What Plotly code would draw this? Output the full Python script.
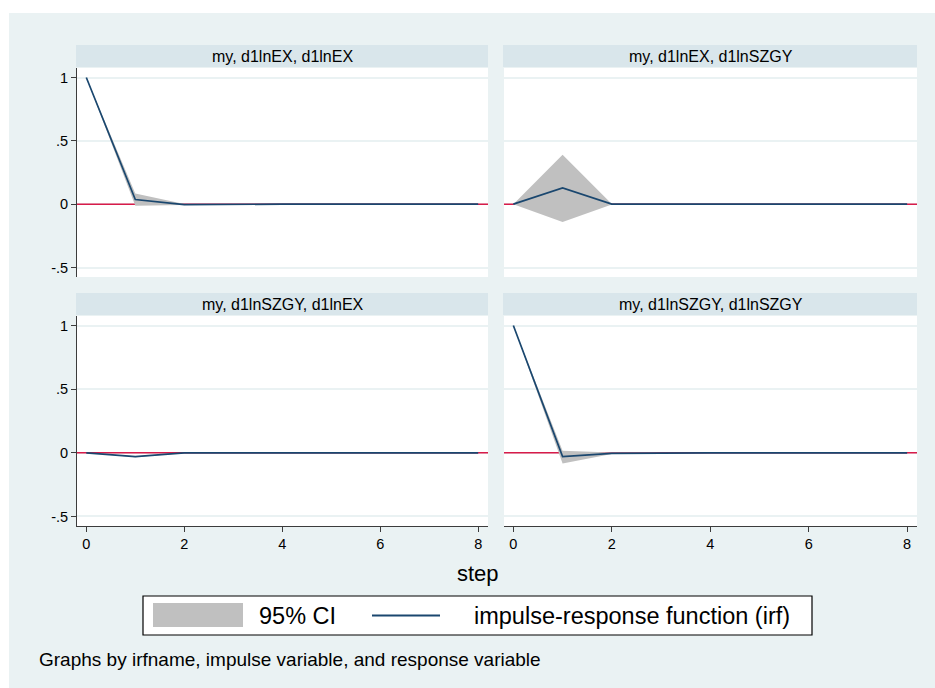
import plotly.graph_objects as go

W, H = 935, 688

steps = [0, 1, 2, 3, 4, 5, 6, 7, 8]
panel_titles = ["my, d1lnEX, d1lnEX", "my, d1lnEX, d1lnSZGY",
                "my, d1lnSZGY, d1lnEX", "my, d1lnSZGY, d1lnSZGY"]

irf_ex_ex = [1.0, 0.037, -0.003, 0.0, 0.0, 0.0, 0.0, 0.0, 0.0]
lo_ex_ex = [1.0, -0.012, -0.007, 0.0, 0.0, 0.0, 0.0, 0.0, 0.0]
up_ex_ex = [1.0, 0.085, 0.001, 0.0, 0.0, 0.0, 0.0, 0.0, 0.0]

irf_ex_sz = [0.0, 0.128, 0.0, 0.0, 0.0, 0.0, 0.0, 0.0, 0.0]
lo_ex_sz = [0.0, -0.14, -0.002, 0.0, 0.0, 0.0, 0.0, 0.0, 0.0]
up_ex_sz = [0.0, 0.39, 0.002, 0.0, 0.0, 0.0, 0.0, 0.0, 0.0]

irf_sz_ex = [0.0, -0.03, 0.0, 0.0, 0.0, 0.0, 0.0, 0.0, 0.0]
lo_sz_ex = [0.0, -0.034, -0.001, 0.0, 0.0, 0.0, 0.0, 0.0, 0.0]
up_sz_ex = [0.0, -0.026, 0.001, 0.0, 0.0, 0.0, 0.0, 0.0, 0.0]

irf_sz_sz = [1.0, -0.03, -0.004, 0.0, 0.0, 0.0, 0.0, 0.0, 0.0]
lo_sz_sz = [1.0, -0.084, -0.01, 0.0, 0.0, 0.0, 0.0, 0.0, 0.0]
up_sz_sz = [1.0, 0.016, 0.002, 0.0, 0.0, 0.0, 0.0, 0.0, 0.0]

ytick_vals = [-0.5, 0, 0.5, 1]
ytick_text = ["-.5", "0", ".5", "1"]
xtick_vals = [0, 2, 4, 6, 8]

panels = [
    (irf_ex_ex, lo_ex_ex, up_ex_ex),
    (irf_ex_sz, lo_ex_sz, up_ex_sz),
    (irf_sz_ex, lo_sz_ex, up_sz_ex),
    (irf_sz_sz, lo_sz_sz, up_sz_sz),
]

NAVY = "#1a476f"
CI_GRAY = "#c0c0c0"
BG = "#eaf2f3"
STRIP = "#d9e6eb"
RED = "#d81b4a"
AXC = "#3c3c3c"
FONT = "Liberation Sans, Arial, sans-serif"


def fx(px):
    return px / W


def fy(py):
    return 1 - py / H


# pixel boxes (x0, x1, ytop, ybottom) of each plot area
boxes = [
    (77, 488, 68, 277),
    (504, 917, 68, 277),
    (77, 488, 316, 526),
    (504, 917, 316, 526),
]

fig = go.Figure()
layout = dict(
    width=W, height=H,
    margin=dict(l=0, r=0, t=0, b=0),
    paper_bgcolor=BG,
    plot_bgcolor="white",
    showlegend=False,
    font=dict(family=FONT, color="black", size=14),
)

shapes = [
    dict(type="rect", xref="paper", yref="paper", x0=0, x1=fx(9), y0=0, y1=1,
         fillcolor="white", line_width=0, layer="below"),
    dict(type="rect", xref="paper", yref="paper", x0=0, x1=1, y0=fy(13), y1=1,
         fillcolor="white", line_width=0, layer="below"),
]
annotations = []

for i, (irf, lo, up) in enumerate(panels):
    n = i + 1
    xa = "x" if n == 1 else f"x{n}"
    ya = "y" if n == 1 else f"y{n}"
    x0, x1, yt, yb = boxes[i]
    left = i in (0, 2)
    bottom = i in (2, 3)

    # zero reference line (drawn first so the curves sit on top)
    fig.add_trace(go.Scatter(x=[-0.19, 8.2], y=[0, 0], mode="lines",
                             line=dict(width=1.5, color=RED), xaxis=xa, yaxis=ya,
                             hoverinfo="skip"))
    fig.add_trace(go.Scatter(x=steps, y=lo, mode="lines", line=dict(width=0, color=CI_GRAY),
                             xaxis=xa, yaxis=ya, hoverinfo="skip"))
    fig.add_trace(go.Scatter(x=steps, y=up, mode="lines", line=dict(width=0, color=CI_GRAY),
                             fill="tonexty", fillcolor=CI_GRAY, xaxis=xa, yaxis=ya,
                             hoverinfo="skip"))
    fig.add_trace(go.Scatter(x=steps, y=irf, mode="lines", line=dict(width=1.7, color=NAVY),
                             xaxis=xa, yaxis=ya))

    xkey = "xaxis" if n == 1 else f"xaxis{n}"
    ykey = "yaxis" if n == 1 else f"yaxis{n}"
    layout[xkey] = dict(
        domain=[fx(x0), fx(x1)], range=[-0.19, 8.2], anchor=ya,
        tickvals=xtick_vals, showticklabels=bottom,
        ticks="outside" if bottom else "", ticklen=5, tickwidth=1, tickcolor=AXC,
        showline=bottom, linecolor=AXC, linewidth=1,
        showgrid=False, zeroline=False, tickfont=dict(size=14.5, color="black"),
        fixedrange=True,
    )
    layout[ykey] = dict(
        domain=[fy(yb), fy(yt)], range=[-0.575, 1.075], anchor=xa,
        tickvals=ytick_vals, ticktext=ytick_text, showticklabels=left,
        ticks="outside" if left else "", ticklen=5, tickwidth=1, tickcolor=AXC,
        showline=left, linecolor=AXC, linewidth=1,
        showgrid=True, gridcolor=BG, gridwidth=1.5, zeroline=False,
        tickfont=dict(size=14.5, color="black"), fixedrange=True,
    )

    # strip header
    shapes.append(dict(type="rect", xref="paper", yref="paper",
                       x0=fx(x0 - 1), x1=fx(x1), y0=fy(yt - 1), y1=fy(yt - 23),
                       fillcolor=STRIP, line_width=0, layer="below"))
    annotations.append(dict(text=panel_titles[i], xref="paper", yref="paper",
                            x=fx((x0 + x1) / 2), y=fy(yt - 12), showarrow=False,
                            xanchor="center", yanchor="middle",
                            font=dict(size=16, color="black")))

# x-axis title
annotations.append(dict(text="step", xref="paper", yref="paper", x=fx(478), y=fy(573),
                        showarrow=False, xanchor="center", yanchor="middle",
                        font=dict(size=22, color="black")))

# legend box
shapes.append(dict(type="rect", xref="paper", yref="paper", x0=fx(143), x1=fx(812),
                   y0=fy(635), y1=fy(596), fillcolor="white",
                   line=dict(color="black", width=1.2), layer="below"))
shapes.append(dict(type="rect", xref="paper", yref="paper", x0=fx(153), x1=fx(243),
                   y0=fy(627), y1=fy(603), fillcolor=CI_GRAY, line_width=0, layer="above"))
shapes.append(dict(type="line", xref="paper", yref="paper", x0=fx(372), x1=fx(440),
                   y0=fy(615.5), y1=fy(615.5), line=dict(color=NAVY, width=1.8), layer="above"))
annotations.append(dict(text="95% CI", xref="paper", yref="paper", x=fx(257), y=fy(616),
                        showarrow=False, xanchor="left", yanchor="middle",
                        font=dict(size=23.5, color="black")))
annotations.append(dict(text="impulse-response function (irf)", xref="paper", yref="paper",
                        x=fx(472), y=fy(616), showarrow=False, xanchor="left",
                        yanchor="middle", font=dict(size=23.5, color="black")))

# note
annotations.append(dict(text="Graphs by irfname, impulse variable, and response variable",
                        xref="paper", yref="paper", x=fx(37), y=fy(659), showarrow=False,
                        xanchor="left", yanchor="middle", font=dict(size=19, color="black")))

layout["shapes"] = shapes
layout["annotations"] = annotations
fig.update_layout(**layout)

fig.write_html("out.html", config={"displayModeBar": False},
               post_script="document.body.style.margin='0';document.body.style.overflow='hidden';")
